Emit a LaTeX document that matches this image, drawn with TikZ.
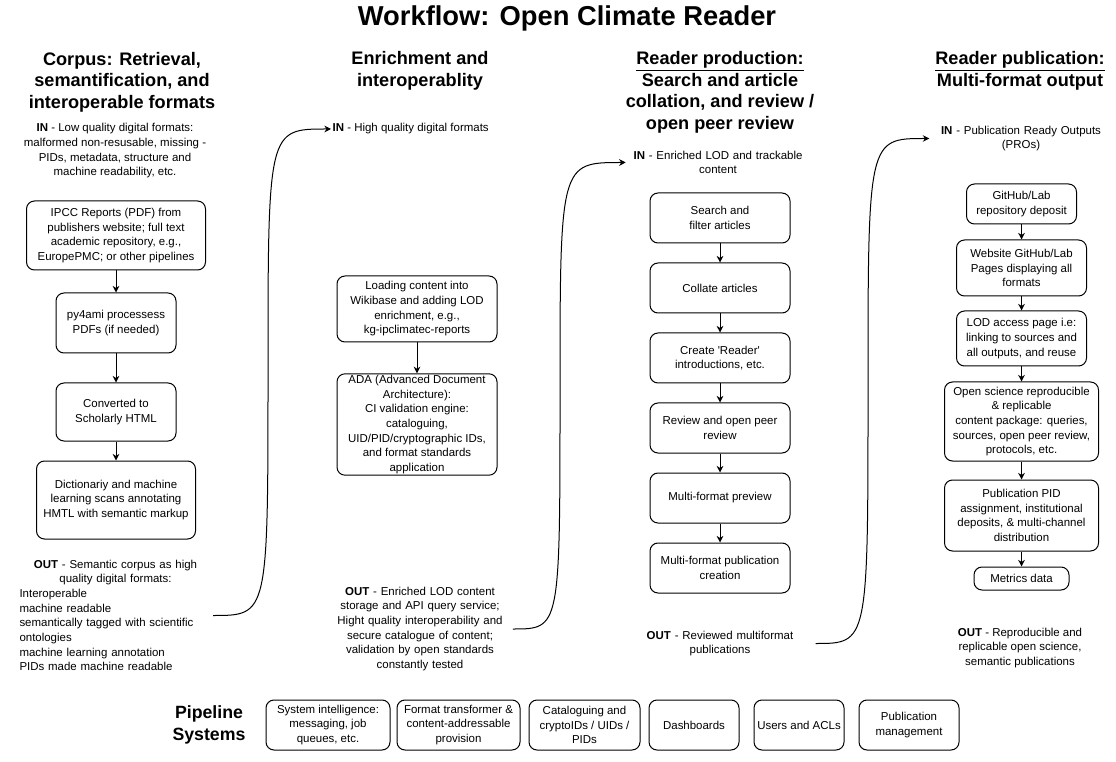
\documentclass[tikz,border=0pt]{standalone}
\usepackage{fontspec}
\setmainfont{Liberation Sans}
\usetikzlibrary{arrows.meta}
\begin{document}
\begin{tikzpicture}[x=0.75pt,y=-0.75pt,every node/.style={align=center,inner sep=1pt,font=\fontsize{8.6}{11}\selectfont},box/.style={draw,rounded corners=6pt,line width=0.75pt},wh/.style 2 args={minimum width=#1*0.75pt,minimum height=#2*0.75pt},head/.style={font=\bfseries\fontsize{13.6}{16.1}\selectfont},arrow/.style={-{Stealth[length=5pt,width=5pt]},line width=0.75pt}]
                \useasboundingbox (0,0) rectangle (1116,762);
                \node[font=\bfseries\fontsize{20.5}{24}\selectfont] (title) at (567,18) {Workflow: Open Climate Reader};
                % column heads
                \node[head] (h1) at (122,82) {Corpus: Retrieval,\\semantification, and\\interoperable formats};
                \node[head] (h2) at (420,71) {Enrichment and\\interoperablity};
                \node[head] (h3) at (720,92.5) {\underline{Reader production:}\\Search and article\\collation, and review /\\open peer review};
                \node[head] (h4) at (1020,71) {\underline{Reader publication:}\\Multi-format output};
                % IN / OUT texts
                \node (in1) at (115,151) {\textbf{IN} - Low quality digital formats:\\malformed non-resusable, missing -\\PIDs, metadata, structure and\\machine readability, etc.};
                \node[anchor=west] (in2) at (331,129) {\textbf{IN} - High quality digital formats};
                \node[text width=136pt] (in3) at (718,162.5) {\textbf{IN} - Enriched LOD and trackable\\content};
                \node[text width=135pt] (in4) at (1021,138.5) {\textbf{IN} - Publication Ready Outputs\\(PROs)};
                \node[text width=144pt,align=left] (out1) at (115.5,615.5) {{\centering\textbf{OUT} - Semantic corpus as high\\quality digital formats:\par}Interoperable\\machine readable\\semantically tagged with scientific\\ontologies\\machine learning annotation\\PIDs made machine readable};
                \node[text width=137pt] (out2) at (420,629) {\textbf{OUT} - Enriched LOD content\\storage and API query service;\\Hight quality interoperability and\\secure catalogue of content;\\validation by open standards\\constantly tested};
                \node[text width=141pt] (out3) at (720,643.5) {\textbf{OUT} - Reviewed multiformat\\publications};
                \node (out4) at (1020,648) {\textbf{OUT} - Reproducible and\\replicable open science,\\semantic publications};
                % column 1
                \node[box,wh={179}{69}] (ipcc) at (116,235.5) {IPCC Reports (PDF) from\\publishers website; full text\\academic repository, e.g.,\\EuropePMC; or other pipelines};
                \node[box,wh={120}{60}] (pyami) at (116,323) {py4ami processess\\PDFs (if needed)};
                \node[box,wh={120}{58}] (schtml) at (116,412) {Converted to\\Scholarly HTML};
                \node[box,wh={159}{78}] (dict) at (116,500) {Dictionariy and machine\\learning scans annotating\\HMTL with semantic markup};
                % column 2
                \node[box,wh={160}{66}] (wikibase) at (417,309) {Loading content into\\Wikibase and adding LOD\\enrichment, e.g.,\\kg-ipclimatec-reports};
                \node[box,wh={160}{99}] (ada) at (417,424.5) {ADA (Advanced Document\\Architecture):\\CI validation engine:\\cataloguing,\\UID/PID/cryptographic IDs,\\and format standards\\application};
                % column 3
                \foreach \n/\t [count=\k from 0] in {search/{Search and\\filter articles},collate/{Collate articles},intro/{Create \textquotesingle Reader\textquotesingle\\introductions, etc.},review/{Review and open peer\\review},preview/{Multi-format preview},creation/{Multi-format publication\\creation}}
                    \node[box,wh={140}{50}] (\n) at (720,{218+70*\k}) {\t};
                % column 4
                \foreach \n/\y/\w/\h/\t in {repo/204/110/40/{GitHub/Lab\\repository deposit},pages/268/130/56/{Website GitHub/Lab\\Pages displaying all\\formats},lodpage/338.5/130/55/{LOD access page i.e:\\linking to sources and\\all outputs, and reuse},package/421.5/154/79/{Open science reproducible\\\& replicable\\ content package: queries,\\sources, open peer review,\\protocols, etc.},pid/515.5/154/71/{Publication PID\\assignment, institutional\\deposits, \& multi-channel\\distribution},metrics/578.5/95/23/{Metrics data}}
                    \node[box,wh={\w}{\h}] (\n) at (1021.5,\y) {\t};
                \foreach \a/\b in {ipcc/pyami,pyami/schtml,schtml/dict,wikibase/ada,search/collate,collate/intro,intro/review,review/preview,preview/creation,repo/pages,pages/lodpage,lodpage/package,package/pid,pid/metrics}
                    \draw[arrow] (\a) -- (\b);
                % out -> in
                \draw[arrow] (out1.east) .. controls (268,615.5) .. (268,372) .. controls (268,129) .. (in2.west);
                \draw[arrow] (out2.east) .. controls (560,629) .. (560,395) .. controls (560,162.5) .. (in3.west);
                \draw[arrow] (out3.east) .. controls (868,643.5) .. (868,391) .. controls (868,138.5) .. (in4.west);
                % pipeline systems
                \node[head,font=\bfseries\fontsize{13.3}{16.5}\selectfont] (pipeline) at (209,725) {Pipeline\\Systems};
                \foreach \n/\x/\w/\t in {sysint/328/124/{System intelligence:\\messaging, job\\queues, etc.},transformer/458.5/123/{Format transformer \&\\content-addressable\\provision},catalogue/584.5/111/{Cataloguing and\\cryptoIDs / UIDs /\\PIDs},dashboards/694/90/{Dashboards},users/799/90/{Users and ACLs},pubman/909/100/{Publication\\management}}
                    \node[box,wh={\w}{50}] (\n) at (\x,725) {\t};
            \end{tikzpicture}
\end{document}
